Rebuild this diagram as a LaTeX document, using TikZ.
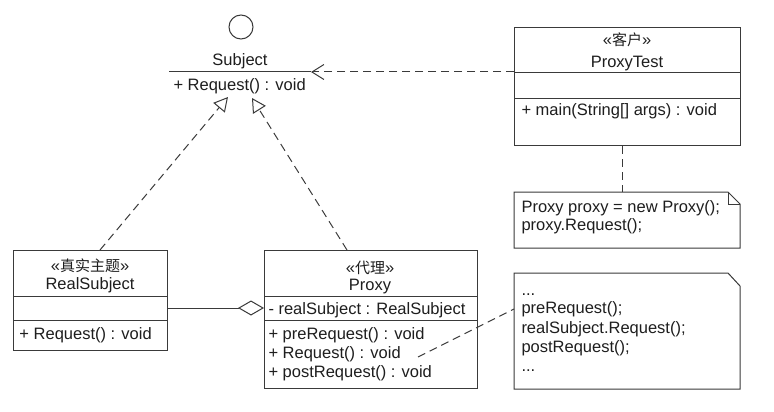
\documentclass[tikz,border=0pt]{standalone}
\usepackage{fontspec}
\setmainfont{Liberation Sans}
\newfontfamily\cjk{Noto Sans CJK SC}
\usetikzlibrary{arrows.meta}
\definecolor{umlline}{HTML}{3A3A3A}
\definecolor{umltext}{HTML}{1E1E1E}
\begin{document}
\begin{tikzpicture}[x=1pt,y=-1pt,
  line width=1pt, draw=umlline,
  box/.style={draw=umlline, line width=1pt, anchor=north west, inner sep=0pt},
  txt/.style={font=\fontsize{16.5}{19}\selectfont, text=umltext, inner sep=0pt},
  lefttxt/.style={txt, anchor=base west},
  midtxt/.style={txt, anchor=base},
  stereo/.style={txt, anchor=base},
  dashline/.style={draw=umlline, dash pattern=on 8pt off 5pt},
  realize/.style={dashline, -{Triangle[open, length=14pt, width=15pt, fill=white]}},
  depend/.style={dashline, -{Straight Barb[length=12pt, width=15pt]}},
  aggreg/.style={draw=umlline, -{Diamond[open, length=26pt, width=15pt, fill=white]}}
]
\newcommand{\st}[1]{«{\cjk\fontsize{15}{15}\selectfont #1}»}
% canvas
\fill[white] (0,0) rectangle (774,412);
\useasboundingbox (0,0) rectangle (774,412);

% ---------- interface Subject (lollipop) ----------
\draw[draw=umlline] (241,27) circle[radius=12];
\node[midtxt] (subject) at (240,66) {Subject};
\coordinate (ifaceL) at (169,72);
\coordinate (ifaceR) at (311,72);
\draw (ifaceL) -- (ifaceR);
\node[lefttxt] (subjop) at (173,90) {+ Request() : void};
\coordinate (tipL) at (228,97);
\coordinate (tipR) at (252,98);

% ---------- ProxyTest ----------
\node[box, minimum width=226pt, minimum height=118pt] (client) at (514,27) {};
\draw (514,73) -- (740,73);
\draw (514,98) -- (740,98);
\node[stereo] (clientst) at (627,46) {\st{客户}};
\node[midtxt] (clientname) at (627,67) {ProxyTest};
\node[lefttxt] (clientop) at (521,115) {+ main(String[] args) : void};

% ---------- RealSubject ----------
\node[box, minimum width=154pt, minimum height=100pt] (real) at (13,250) {};
\draw (13,296) -- (167,296);
\draw (13,320) -- (167,320);
\node[stereo] (realst) at (90,271) {\st{真实主题}};
\node[midtxt] (realname) at (90,289) {RealSubject};
\node[lefttxt] (realop) at (19,339) {+ Request() : void};

% ---------- Proxy ----------
\node[box, minimum width=213pt, minimum height=138pt] (proxy) at (264,250) {};
\draw (264,296) -- (477,296);
\draw (264,320) -- (477,320);
\node[stereo] (proxyst) at (370,273) {\st{代理}};
\node[midtxt] (proxyname) at (370,290) {Proxy};
\node[lefttxt] (proxyattr) at (268,314) {- realSubject : RealSubject};
\node[lefttxt] (proxyop1) at (268,339) {+ preRequest() : void};
\node[lefttxt] (proxyop2) at (268,358) {+ Request() : void};
\node[lefttxt] (proxyop3) at (268,377) {+ postRequest() : void};

% ---------- note on ProxyTest ----------
\coordinate (noteA) at (514,192);
\draw[fill=white] (noteA) -- (728,192) -- (740,204) -- (740,248) -- (514,248) -- cycle;
\draw (728,192) -- (728,204) -- (740,204);
\node[lefttxt] (noteA1) at (521,212) {Proxy proxy = new Proxy();};
\node[lefttxt] (noteA2) at (521,230) {proxy.Request();};

% ---------- note on Proxy.Request ----------
\coordinate (noteB) at (514,309);
\draw[fill=white] (514,273) -- (728,273) -- (740,286) -- (740,389) -- (514,389) -- cycle;
\node[lefttxt] (noteB1) at (521,295) {...};
\node[lefttxt] (noteB2) at (521,313) {preRequest();};
\node[lefttxt] (noteB3) at (521,333) {realSubject.Request();};
\node[lefttxt] (noteB4) at (521,352) {postRequest();};
\node[lefttxt] (noteB5) at (521,371) {...};

% ---------- connectors ----------
\coordinate (reqend) at (418,357);
\draw[depend] (client.west |- ifaceR) -- (ifaceR);
\draw[realize] (real.north -| 100,0) -- (tipL);
\draw[realize] (proxy.north -| 347,0) -- (tipR);
\draw[aggreg] (real.east |- 0,308) -- (proxy.west |- 0,308);
\draw[dashline] (client.south -| 622,0) -- (noteA -| 622,0);
\draw[dashline] (reqend) -- (noteB);
\end{tikzpicture}
\end{document}
